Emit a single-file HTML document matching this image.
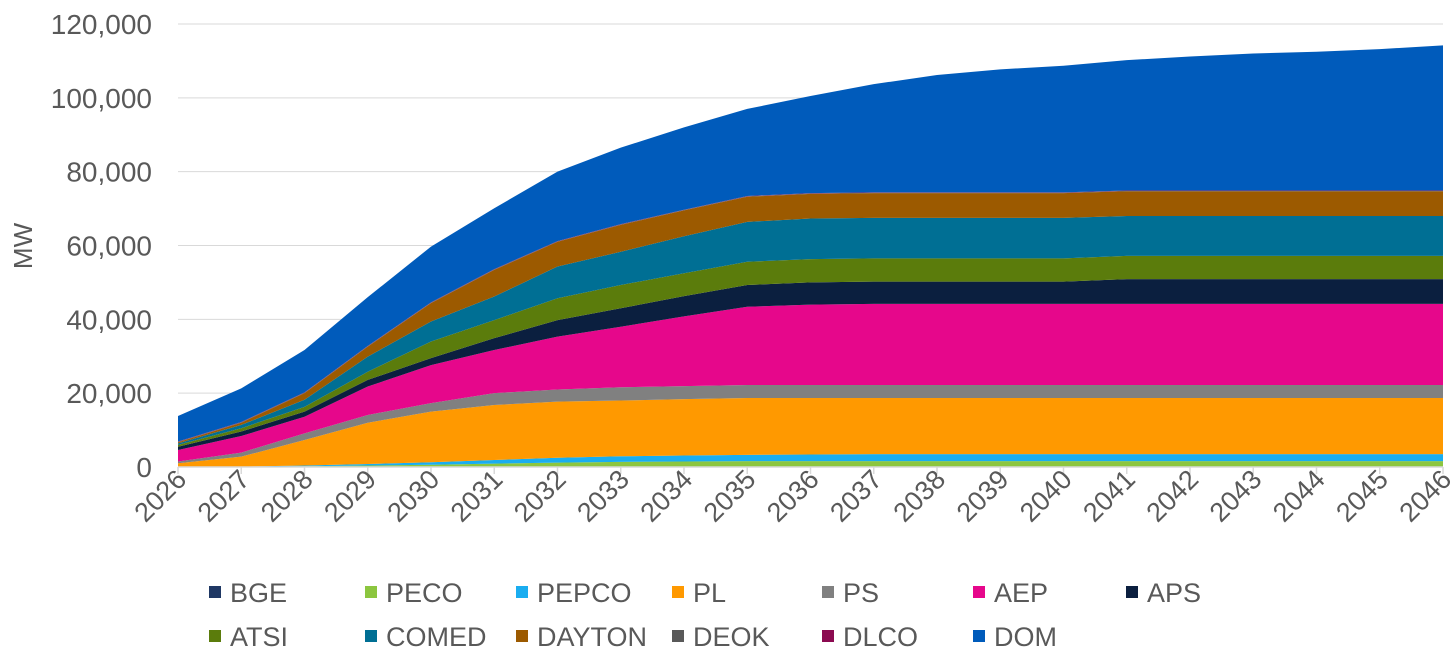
<!DOCTYPE html>
<html><head><meta charset="utf-8"><style>
body{margin:0;background:#fff;}
svg{display:block;font-family:"Liberation Sans",sans-serif;}
</style></head><body>
<svg id="chart" width="1456" height="660" viewBox="0 0 1456 660" xmlns="http://www.w3.org/2000/svg">
<g id="grid"></g>
<g id="areas"></g>
<g id="axes"></g>
<text transform="translate(32,246) rotate(-90)" text-anchor="middle" font-size="26" fill="#595959">MW</text>
<g id="legend"></g>
</svg>
<script>
const years=[2026,2027,2028,2029,2030,2031,2032,2033,2034,2035,2036,2037,2038,2039,2040,2041,2042,2043,2044,2045,2046];
const yTicks=[0,20000,40000,60000,80000,100000,120000];
const seriesNames=["BGE","PECO","PEPCO","PL","PS","AEP","APS","ATSI","COMED","DAYTON","DEOK","DLCO","DOM"];
const seriesColors=["#1f3864","#8cc63f","#1aadf0","#ff9900","#808080","#e6078b","#0b1f3f","#5b7c0c","#006f94","#9c5a00","#595959","#8b0a50","#005bbb"];
const BGE=[0,0,0,0,0,0,0,0,0,0,0,0,0,0,0,0,0,0,0,0,0];
const PECO=[0,50,200,400,600,900,1200,1400,1500,1600,1600,1600,1600,1600,1600,1600,1600,1600,1600,1600,1600];
const PEPCO=[50,50,200,400,700,1000,1300,1500,1600,1700,1800,1900,1900,1900,1900,1900,1900,1900,1900,1900,1900];
const PL=[950,2700,6900,11200,13700,14900,15200,15100,15300,15400,15300,15200,15200,15200,15200,15200,15200,15200,15200,15200,15200];
const PS=[500,1100,1800,2100,2300,3200,3300,3600,3500,3500,3500,3500,3500,3500,3500,3500,3500,3500,3500,3500,3500];
const AEP=[3100,4500,4500,7700,10300,11700,14300,16400,18900,21200,21800,22000,22000,22000,22000,22000,22000,22000,22000,22000,22000];
const APS=[900,1200,1400,1800,1900,3200,4500,5000,5500,5900,6000,6000,6000,6000,6000,6700,6700,6700,6700,6700,6700];
const ATSI=[500,900,1300,2200,4500,4900,5900,6300,6200,6300,6300,6300,6300,6300,6300,6300,6300,6300,6300,6300,6300];
const COMED=[400,900,1900,4100,5400,6400,8600,9000,10000,10800,11000,11000,11000,11000,11000,10800,10800,10800,10800,10800,10800];
const DAYTON=[300,600,1800,2700,5000,7200,6700,7300,7000,6800,6700,6700,6700,6700,6700,6700,6700,6700,6700,6700,6700];
const DEOK=[100,100,100,100,100,100,100,100,100,100,100,100,100,100,100,100,100,100,100,100,100];
const DLCO=[100,100,100,100,100,100,100,100,100,100,100,100,100,100,100,100,100,100,100,100,100];
const DOM=[6900,9100,11500,13200,15100,16500,18800,20700,22300,23600,26300,29300,31800,33300,34300,35300,36300,37100,37600,38300,39300];
const seriesValues=[BGE,PECO,PEPCO,PL,PS,AEP,APS,ATSI,COMED,DAYTON,DEOK,DLCO,DOM];

const NS="http://www.w3.org/2000/svg";
const x0=178,x1=1443,y0=467,yTop=24,yMax=120000;
const xS=i=>x0+(x1-x0)*i/(years.length-1);
const yS=v=>y0-(y0-yTop)*v/yMax;
function mk(t,a,p){const e=document.createElementNS(NS,t);for(const k in a)e.setAttribute(k,a[k]);p.appendChild(e);return e;}
const grid=document.getElementById('grid'),axes=document.getElementById('axes'),areas=document.getElementById('areas'),legend=document.getElementById('legend');
yTicks.forEach(v=>{
  if(v>0){const l=mk('line',{x1:x0,x2:x1,y1:yS(v),y2:yS(v),stroke:'#d9d9d9','stroke-width':1},grid);
  
  }
  const t=mk('text',{x:152,y:yS(v)+10,'text-anchor':'end','font-size':28,fill:'#595959'},axes);
  
  
  t.textContent=v.toLocaleString('en-US');
});
let cum=years.map(()=>0);
seriesValues.forEach((s,k)=>{
  const lo=cum.slice();const hi=cum.map((c,i)=>c+s[i]);cum=hi;
  let d='M'+years.map((y,i)=>xS(i)+','+yS(hi[i])).join('L');
  for(let i=years.length-1;i>=0;i--)d+='L'+xS(i)+','+yS(lo[i]);
  const p=mk('path',{d:d+'Z',fill:seriesColors[k]},areas);
  
  
});
const ax=mk('line',{x1:x0,x2:x1,y1:y0,y2:y0,stroke:'#d9d9d9','stroke-width':1.5},axes);


years.forEach((y,i)=>{
  const tk=mk('line',{x1:xS(i),x2:xS(i),y1:y0,y2:y0+7,stroke:'#d9d9d9','stroke-width':1.5},axes);
  
  
  const t=mk('text',{transform:`translate(${xS(i)+10},${y0+14}) rotate(-45)`,'text-anchor':'end','font-size':27,fill:'#595959'},axes);
  
  
  t.textContent=y;
});
const lx=[230,386,537,693,843,994,1147];
seriesNames.forEach((n,k)=>{
  const r=Math.floor(k/7),c=k%7;const x=lx[c],y=r?636:592;
  const g=mk('g',{},legend);
  
  
  mk('rect',{x:x-21,y:y-6,width:12,height:12,fill:seriesColors[k]},g);
  const t=mk('text',{x:x,y:y+10,'font-size':27,fill:'#595959'},g);
  t.textContent=n;
});
</script>
</body></html>
